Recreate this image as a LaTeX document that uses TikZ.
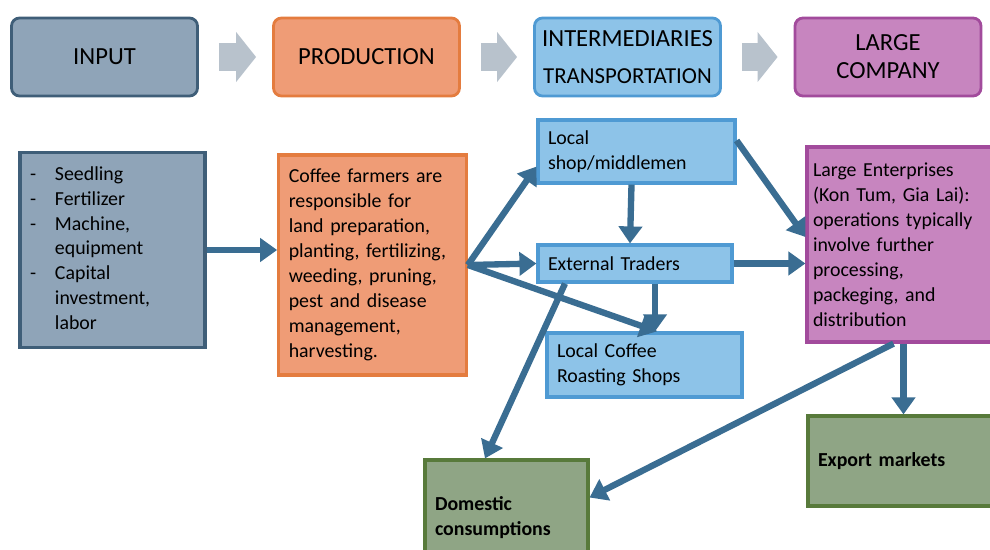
\documentclass[tikz,border=0pt]{standalone}
\usepackage{fontspec}
\setmainfont{Carlito}
\usetikzlibrary{arrows.meta}

\definecolor{slateFill}{HTML}{8FA4B8}
\definecolor{slateLine}{HTML}{3F5E78}
\definecolor{orangeFill}{HTML}{EF9C76}
\definecolor{orangeLine}{HTML}{E47C3F}
\definecolor{blueFill}{HTML}{8DC3E8}
\definecolor{blueLine}{HTML}{4F9AD3}
\definecolor{purpleFill}{HTML}{C785BF}
\definecolor{purpleLine}{HTML}{A24B9C}
\definecolor{greenFill}{HTML}{8FA585}
\definecolor{greenLine}{HTML}{587A3B}
\definecolor{flowColor}{HTML}{3A6D92}
\definecolor{chevColor}{HTML}{B8C2CC}

\begin{document}
\begin{tikzpicture}
[headDecorate/.style={shape=rectangle,rounded corners=0.16cm,line width=1.6pt,
   minimum width=3.72cm,minimum height=1.56cm,align=center,
   font=\fontsize{14}{16}\selectfont},%
  boxDecorate/.style={shape=rectangle,line width=1.8pt,align=left,
   inner sep=0.2cm,font=\fontsize{11.3}{14.2}\selectfont},%
  slate/.style={fill=slateFill,draw=slateLine},%
  orange/.style={fill=orangeFill,draw=orangeLine},%
  blue/.style={fill=blueFill,draw=blueLine},%
  purple/.style={fill=purpleFill,draw=purpleLine},%
  green/.style={fill=greenFill,draw=greenLine},%
  chevDecorate/.style={-{Triangle[length=0.4cm,width=0.98cm]},line width=0.56cm,
   draw=chevColor,shorten <=0.4cm,shorten >=0.32cm},%
  lineDecorate/.style={-{Triangle[length=0.34cm,width=0.46cm]},line width=3.6pt,
   draw=flowColor}]
\useasboundingbox (0,0) rectangle (19.8,-11);
%% header row
\foreach \nodename/\x/\lbl/\col in {hInput/2.09/INPUT/slate,
  hProd/7.33/PRODUCTION/orange,
  hInter/12.55/{INTERMEDIARIES\\[5pt]{\fontsize{13}{15}\selectfont TRANSPORTATION}}/blue,
  hLarge/17.76/{LARGE\\COMPANY}/purple} {
  \node (\nodename) at (\x,-1.14) [headDecorate,\col] {\lbl};
}
\path
\foreach \startnode/\endnode in {hInput/hProd, hProd/hInter, hInter/hLarge} {
  (\startnode) edge[chevDecorate] (\endnode)
};
%% boxes
\node (input) at (2.25,-5.0) [boxDecorate,slate,minimum width=3.7cm,minimum height=3.8cm,text width=3.3cm]
  {\begin{tabular}{@{}p{0.5cm}@{}l@{}}
   - & Seedling\\ - & Fertilizer\\ - & Machine,\\ & equipment\\
   - & Capital\\ & investment,\\ & labor
   \end{tabular}};
\node (farm) at (7.45,-5.3) [boxDecorate,orange,minimum width=3.7cm,minimum height=4.4cm,text width=3.35cm]
  {Coffee farmers are\\responsible for\\land preparation,\\planting, fertilizing,\\weeding, pruning,\\pest and disease\\management,\\harvesting.};
\node (shop) at (12.73,-3.03) [boxDecorate,blue,minimum width=3.94cm,minimum height=1.26cm,text width=3.54cm]
  {Local\\shop/middlemen};
\node (traders) at (12.7,-5.27) [boxDecorate,blue,minimum width=3.88cm,minimum height=0.74cm,text width=3.48cm,inner ysep=0.1cm]
  {External Traders};
\node (roast) at (12.89,-7.3) [boxDecorate,blue,minimum width=3.9cm,minimum height=1.28cm,text width=3.5cm]
  {Local Coffee\\Roasting Shops};
\node (large) at (18.07,-4.89) [boxDecorate,purple,minimum width=3.86cm,minimum height=3.9cm,text width=3.62cm,inner xsep=0.12cm]
  {Large Enterprises\\(Kon Tum, Gia Lai):\\operations typically\\involve further\\processing,\\packeging, and\\distribution};
\node (export) at (18.08,-9.22) [boxDecorate,green,minimum width=3.84cm,minimum height=1.8cm,text width=3.44cm]
  {\textbf{Export markets}};
\node (domestic) at (10.13,-10.35) [boxDecorate,green,minimum width=3.26cm,minimum height=2.3cm,text width=2.86cm]
  {\textbf{Domestic}\\\textbf{consumptions}};
%% flows
\draw[lineDecorate] (input.east) -- (input.east -| farm.west);
\draw[lineDecorate] (farm.east) -- ([yshift=0.36cm]shop.south west);
\draw[lineDecorate] (farm.east) -- (traders.west);
\draw[lineDecorate] (farm.east) -- ([xshift=0.25cm]roast.north);
\draw[lineDecorate] ([xshift=-0.1cm]shop.south) -- ([xshift=-0.1cm]traders.north);
\draw[lineDecorate] ([yshift=0.22cm]shop.east) -- ([yshift=0.15cm]large.west);
\draw[lineDecorate] (traders.east) -- (traders.east -| large.west);
\draw[lineDecorate] ([xshift=0.4cm]traders.south) -- ([xshift=0.4cm]traders.south |- roast.north);
\draw[lineDecorate] ([xshift=-1.4cm]traders.south) -- ([xshift=-0.43cm]domestic.north);
\draw[lineDecorate] ([xshift=-0.2cm]large.south) -- ([yshift=0.4cm]domestic.east);
\draw[lineDecorate] (large.south) -- (large.south |- export.north);
\end{tikzpicture}
\end{document}
